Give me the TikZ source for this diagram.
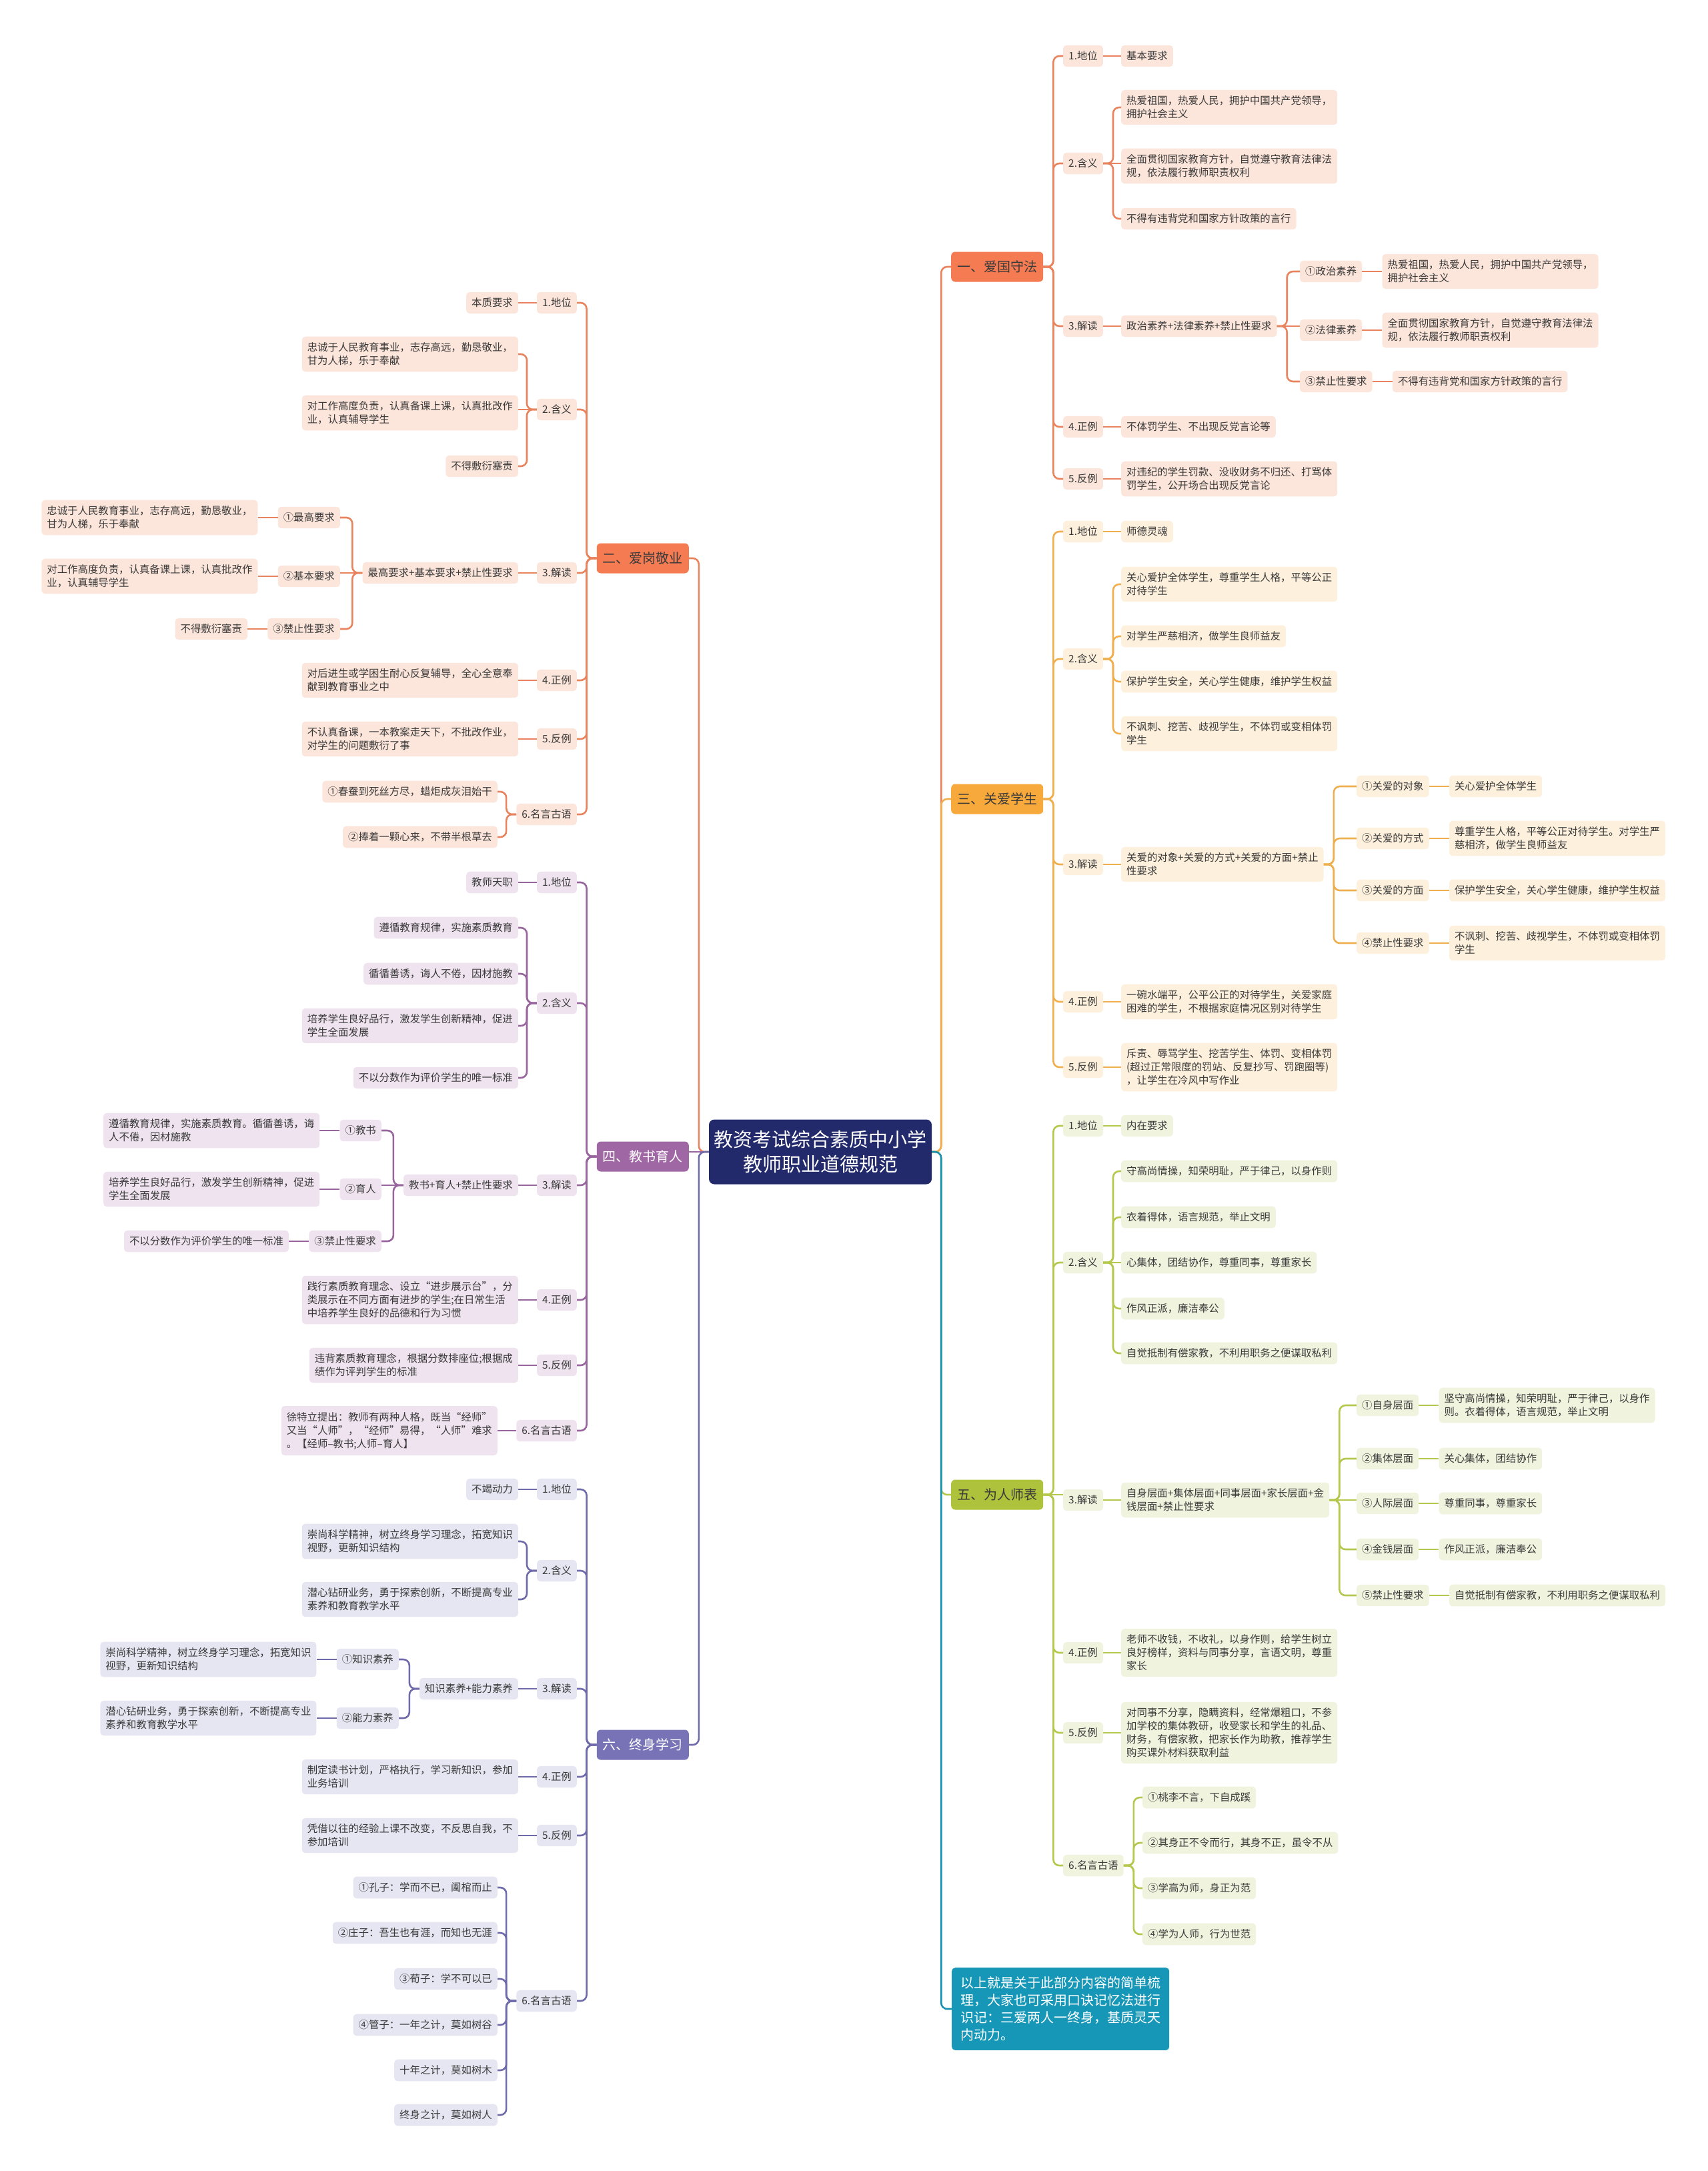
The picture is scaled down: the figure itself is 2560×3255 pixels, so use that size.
\documentclass[tikz,border=0pt]{standalone}
\usepackage{fontspec}
\setmainfont{Noto Sans CJK SC}
\usetikzlibrary{positioning}
\definecolor{rootc}{HTML}{222A6B}
\definecolor{oA}{HTML}{F47B52}
\definecolor{oL}{HTML}{E8835D}
\definecolor{oF}{HTML}{FCE5DA}
\definecolor{aA}{HTML}{F8A93B}
\definecolor{aL}{HTML}{F0AF4E}
\definecolor{aF}{HTML}{FDF0DC}
\definecolor{pA}{HTML}{A067A5}
\definecolor{pL}{HTML}{98659E}
\definecolor{pF}{HTML}{EEE3EF}
\definecolor{gA}{HTML}{AEC23B}
\definecolor{gL}{HTML}{B5C74D}
\definecolor{gF}{HTML}{F0F3DE}
\definecolor{sA}{HTML}{7773B6}
\definecolor{sL}{HTML}{6F6BAB}
\definecolor{sF}{HTML}{E6E6F3}
\definecolor{tA}{HTML}{1797B8}
\definecolor{tL}{HTML}{1B8FAF}
\definecolor{txt}{HTML}{3A3A3A}
\newdimen\lkdy
\newcommand\linkR[3]{%
  \pgfextracty{\lkdy}{\pgfpointdiff{\pgfpointanchor{#2}{east}}{\pgfpointanchor{#3}{west}}}%
  \ifdim\lkdy<0pt \lkdy=-\lkdy\fi
  \ifdim\lkdy<13pt
    \draw[#1] (#2.east) -- (#3.west |- #2.east);
  \else
    \draw[#1] (#2.east) -- ++(15,0) |- (#3.west);
  \fi}
\newcommand\linkL[3]{%
  \pgfextracty{\lkdy}{\pgfpointdiff{\pgfpointanchor{#2}{west}}{\pgfpointanchor{#3}{east}}}%
  \ifdim\lkdy<0pt \lkdy=-\lkdy\fi
  \ifdim\lkdy<13pt
    \draw[#1] (#2.west) -- (#3.east |- #2.west);
  \else
    \draw[#1] (#2.west) -- ++(-15,0) |- (#3.east);
  \fi}
\tikzset{
  box/.style={rounded corners=5pt, inner xsep=8pt, inner ysep=9pt, minimum height=32pt,
    align=left, font=\fontsize{15.4}{20}\selectfont, text=txt},
  ob/.style={box, fill=oF}, ab/.style={box, fill=aF}, pb/.style={box, fill=pF},
  gb/.style={box, fill=gF}, sb/.style={box, fill=sF},
  br/.style={rounded corners=6pt, inner xsep=9pt, minimum height=45pt, font=\fontsize{20}{24}\selectfont},
  R/.style={anchor=west}, L/.style={anchor=east},
  ln/.style={line width=2.6pt, rounded corners=9pt},
  oln/.style={ln, draw=oL}, aln/.style={ln, draw=aL}, pln/.style={ln, draw=pL},
  gln/.style={ln, draw=gL}, sln/.style={ln, draw=sL}, tln/.style={ln, draw=tL}
}
\begin{document}
\begin{tikzpicture}[x=1pt, y=-1pt]
\useasboundingbox (0,0) rectangle (2560,3255);
\fill[white] (0,0) rectangle (2560,3255);

% root
\node[fill=rootc, text=white, rounded corners=8pt, align=center, minimum width=334pt, minimum height=97pt,
  font=\fontsize{29}{37}\selectfont] (root) at (1230,1727) {教资考试综合素质中小学\\教师职业道德规范};

% ================= Branch 1 =================
\node[br, fill=oA, text=txt, R] (b1) at (1426,400) {一、爱国守法};
\node[ob,R] (b1s1) at (1594,84) {1.地位};
\node[ob,R] (b1s1a) at (1681,84) {基本要求};
\node[ob,R] (b1s2) at (1594,245) {2.含义};
\node[ob,R] (b1s2a) at (1681,161) {热爱祖国，热爱人民，拥护中国共产党领导，\\拥护社会主义};
\node[ob,R] (b1s2b) at (1681,249) {全面贯彻国家教育方针，自觉遵守教育法律法\\规，依法履行教师职责权利};
\node[ob,R] (b1s2c) at (1681,328) {不得有违背党和国家方针政策的言行};
\node[ob,R] (b1s3) at (1594,489) {3.解读};
\node[ob,R] (b1s3a) at (1681,489) {政治素养+法律素养+禁止性要求};
\node[ob,R] (b1k1) at (1949,407) {①政治素养};
\node[ob,right=30pt of b1k1] (b1k1a) {热爱祖国，热爱人民，拥护中国共产党领导，\\拥护社会主义};
\node[ob,R] (b1k2) at (1949,495) {②法律素养};
\node[ob,right=30pt of b1k2] (b1k2a) {全面贯彻国家教育方针，自觉遵守教育法律法\\规，依法履行教师职责权利};
\node[ob,R] (b1k3) at (1949,572) {③禁止性要求};
\node[ob,right=30pt of b1k3] (b1k3a) {不得有违背党和国家方针政策的言行};
\node[ob,R] (b1s4) at (1594,640) {4.正例};
\node[ob,R] (b1s4a) at (1681,640) {不体罚学生、不出现反党言论等};
\node[ob,R] (b1s5) at (1594,718) {5.反例};
\node[ob,R] (b1s5a) at (1681,718) {对违纪的学生罚款、没收财务不归还、打骂体\\罚学生，公开场合出现反党言论};

% ================= Branch 3 =================
\node[br, fill=aA, text=txt, R] (b3) at (1426,1198) {三、关爱学生};
\node[ab,R] (b3s1) at (1594,797) {1.地位};
\node[ab,R] (b3s1a) at (1681,797) {师德灵魂};
\node[ab,R] (b3s2) at (1594,988) {2.含义};
\node[ab,R] (b3s2a) at (1681,876) {关心爱护全体学生，尊重学生人格，平等公正\\对待学生};
\node[ab,R] (b3s2b) at (1681,954) {对学生严慈相济，做学生良师益友};
\node[ab,R] (b3s2c) at (1681,1022) {保护学生安全，关心学生健康，维护学生权益};
\node[ab,R] (b3s2d) at (1681,1100) {不讽刺、挖苦、歧视学生，不体罚或变相体罚\\学生};
\node[ab,R] (b3s3) at (1594,1296) {3.解读};
\node[ab,R] (b3s3a) at (1681,1296) {关爱的对象+关爱的方式+关爱的方面+禁止\\性要求};
\node[ab,R] (b3k1) at (2034,1179) {①关爱的对象};
\node[ab,right=30pt of b3k1] (b3k1a) {关心爱护全体学生};
\node[ab,R] (b3k2) at (2034,1257) {②关爱的方式};
\node[ab,right=30pt of b3k2] (b3k2a) {尊重学生人格，平等公正对待学生。对学生严\\慈相济，做学生良师益友};
\node[ab,R] (b3k3) at (2034,1335) {③关爱的方面};
\node[ab,right=30pt of b3k3] (b3k3a) {保护学生安全，关心学生健康，维护学生权益};
\node[ab,R] (b3k4) at (2034,1414) {④禁止性要求};
\node[ab,right=30pt of b3k4] (b3k4a) {不讽刺、挖苦、歧视学生，不体罚或变相体罚\\学生};
\node[ab,R] (b3s4) at (1594,1502) {4.正例};
\node[ab,R] (b3s4a) at (1681,1502) {一碗水端平，公平公正的对待学生，关爱家庭\\困难的学生，不根据家庭情况区别对待学生};
\node[ab,R] (b3s5) at (1594,1600) {5.反例};
\node[ab,R] (b3s5a) at (1681,1600) {斥责、辱骂学生、挖苦学生、体罚、变相体罚\\(超过正常限度的罚站、反复抄写、罚跑圈等)\\，让学生在冷风中写作业};

% ================= Branch 5 =================
\node[br, fill=gA, text=txt, R] (b5) at (1426,2241) {五、为人师表};
\node[gb,R] (b5s1) at (1594,1688) {1.地位};
\node[gb,R] (b5s1a) at (1681,1688) {内在要求};
\node[gb,R] (b5s2) at (1594,1893) {2.含义};
\node[gb,R] (b5s2a) at (1681,1756) {守高尚情操，知荣明耻，严于律己，以身作则};
\node[gb,R] (b5s2b) at (1681,1825) {衣着得体，语言规范，举止文明};
\node[gb,R] (b5s2c) at (1681,1893) {心集体，团结协作，尊重同事，尊重家长};
\node[gb,R] (b5s2d) at (1681,1962) {作风正派，廉洁奉公};
\node[gb,R] (b5s2e) at (1681,2029) {自觉抵制有偿家教，不利用职务之便谋取私利};
\node[gb,R] (b5s3) at (1594,2249) {3.解读};
\node[gb,R] (b5s3a) at (1681,2249) {自身层面+集体层面+同事层面+家长层面+金\\钱层面+禁止性要求};
\node[gb,R] (b5k1) at (2034,2107) {①自身层面};
\node[gb,right=30pt of b5k1] (b5k1a) {坚守高尚情操，知荣明耻，严于律己，以身作\\则。衣着得体，语言规范，举止文明};
\node[gb,R] (b5k2) at (2034,2187) {②集体层面};
\node[gb,right=30pt of b5k2] (b5k2a) {关心集体，团结协作};
\node[gb,R] (b5k3) at (2034,2254) {③人际层面};
\node[gb,right=30pt of b5k3] (b5k3a) {尊重同事，尊重家长};
\node[gb,R] (b5k4) at (2034,2323) {④金钱层面};
\node[gb,right=30pt of b5k4] (b5k4a) {作风正派，廉洁奉公};
\node[gb,R] (b5k5) at (2034,2392) {⑤禁止性要求};
\node[gb,right=30pt of b5k5] (b5k5a) {自觉抵制有偿家教，不利用职务之便谋取私利};
\node[gb,R] (b5s4) at (1594,2478) {4.正例};
\node[gb,R] (b5s4a) at (1681,2478) {老师不收钱，不收礼，以身作则，给学生树立\\良好榜样，资料与同事分享，言语文明，尊重\\家长};
\node[gb,R] (b5s5) at (1594,2598) {5.反例};
\node[gb,R] (b5s5a) at (1681,2598) {对同事不分享，隐瞒资料，经常爆粗口，不参\\加学校的集体教研，收受家长和学生的礼品、\\财务，有偿家教，把家长作为助教，推荐学生\\购买课外材料获取利益};
\node[gb,R] (b5s6) at (1594,2797) {6.名言古语};
\node[gb,R] (b5s6a) at (1713,2695) {①桃李不言，下自成蹊};
\node[gb,R] (b5s6b) at (1713,2763) {②其身正不令而行，其身不正，虽令不从};
\node[gb,R] (b5s6c) at (1713,2831) {③学高为师，身正为范};
\node[gb,R] (b5s6d) at (1713,2900) {④学为人师，行为世范};

% summary
\node[fill=tA, text=white, rounded corners=5pt, align=left, inner xsep=13pt, inner ysep=13.5pt,
  font=\fontsize{20}{26}\selectfont, R] (sum) at (1427,3012) {以上就是关于此部分内容的简单梳\\理，大家也可采用口诀记忆法进行\\识记：三爱两人一终身，基质灵天\\内动力。};

% ================= Branch 2 =================
\node[br, fill=oA, text=txt, L] (b2) at (1033,837) {二、爱岗敬业};
\node[ob,L] (b2s1) at (865,454) {1.地位};
\node[ob,L] (b2s1a) at (777,454) {本质要求};
\node[ob,L] (b2s2) at (865,614) {2.含义};
\node[ob,L] (b2s2a) at (777,531) {忠诚于人民教育事业，志存高远，勤恳敬业，\\甘为人梯，乐于奉献};
\node[ob,L] (b2s2b) at (777,619) {对工作高度负责，认真备课上课，认真批改作\\业，认真辅导学生};
\node[ob,L] (b2s2c) at (777,699) {不得敷衍塞责};
\node[ob,L] (b2s3) at (865,859) {3.解读};
\node[ob,L] (b2s3a) at (777,859) {最高要求+基本要求+禁止性要求};
\node[ob,L] (b2k1) at (510,776) {①最高要求};
\node[ob,left=30pt of b2k1] (b2k1a) {忠诚于人民教育事业，志存高远，勤恳敬业，\\甘为人梯，乐于奉献};
\node[ob,L] (b2k2) at (510,864) {②基本要求};
\node[ob,left=30pt of b2k2] (b2k2a) {对工作高度负责，认真备课上课，认真批改作\\业，认真辅导学生};
\node[ob,L] (b2k3) at (510,943) {③禁止性要求};
\node[ob,left=30pt of b2k3] (b2k3a) {不得敷衍塞责};
\node[ob,L] (b2s4) at (865,1020) {4.正例};
\node[ob,L] (b2s4a) at (777,1020) {对后进生或学困生耐心反复辅导，全心全意奉\\献到教育事业之中};
\node[ob,L] (b2s5) at (865,1108) {5.反例};
\node[ob,L] (b2s5a) at (777,1108) {不认真备课，一本教案走天下，不批改作业，\\对学生的问题敷衍了事};
\node[ob,L] (b2s6) at (865,1221) {6.名言古语};
\node[ob,L] (b2s6a) at (746,1187) {①春蚕到死丝方尽，蜡炬成灰泪始干};
\node[ob,L] (b2s6b) at (746,1255) {②捧着一颗心来，不带半根草去};

% ================= Branch 4 =================
\node[br, fill=pA, text=white, L] (b4) at (1033,1734) {四、教书育人};
\node[pb,L] (b4s1) at (865,1323) {1.地位};
\node[pb,L] (b4s1a) at (777,1323) {教师天职};
\node[pb,L] (b4s2) at (865,1504) {2.含义};
\node[pb,L] (b4s2a) at (777,1391) {遵循教育规律，实施素质教育};
\node[pb,L] (b4s2b) at (777,1460) {循循善诱，诲人不倦，因材施教};
\node[pb,L] (b4s2c) at (777,1538) {培养学生良好品行，激发学生创新精神，促进\\学生全面发展};
\node[pb,L] (b4s2d) at (777,1616) {不以分数作为评价学生的唯一标准};
\node[pb,L] (b4s3) at (865,1777) {3.解读};
\node[pb,L] (b4s3a) at (777,1777) {教书+育人+禁止性要求};
\node[pb,L] (b4k1) at (572,1695) {①教书};
\node[pb,left=30pt of b4k1] (b4k1a) {遵循教育规律，实施素质教育。循循善诱，诲\\人不倦，因材施教};
\node[pb,L] (b4k2) at (572,1783) {②育人};
\node[pb,left=30pt of b4k2] (b4k2a) {培养学生良好品行，激发学生创新精神，促进\\学生全面发展};
\node[pb,L] (b4k3) at (572,1861) {③禁止性要求};
\node[pb,left=30pt of b4k3] (b4k3a) {不以分数作为评价学生的唯一标准};
\node[pb,L] (b4s4) at (865,1949) {4.正例};
\node[pb,L] (b4s4a) at (777,1949) {践行素质教育理念、设立“进步展示台”，分\\类展示在不同方面有进步的学生;在日常生活\\中培养学生良好的品德和行为习惯};
\node[pb,L] (b4s5) at (865,2047) {5.反例};
\node[pb,L] (b4s5a) at (777,2047) {违背素质教育理念，根据分数排座位;根据成\\绩作为评判学生的标准};
\node[pb,L] (b4s6) at (865,2145) {6.名言古语};
\node[pb,L] (b4s6a) at (746,2145) {徐特立提出：教师有两种人格，既当“经师”\\又当“人师”，“经师”易得，“人师”难求\\。【经师--教书;人师--育人】};

% ================= Branch 6 =================
\node[br, fill=sA, text=white, L] (b6) at (1033,2616) {六、终身学习};
\node[sb,L] (b6s1) at (865,2233) {1.地位};
\node[sb,L] (b6s1a) at (777,2233) {不竭动力};
\node[sb,L] (b6s2) at (865,2355) {2.含义};
\node[sb,L] (b6s2a) at (777,2311) {崇尚科学精神，树立终身学习理念，拓宽知识\\视野，更新知识结构};
\node[sb,L] (b6s2b) at (777,2398) {潜心钻研业务，勇于探索创新，不断提高专业\\素养和教育教学水平};
\node[sb,L] (b6s3) at (865,2532) {3.解读};
\node[sb,L] (b6s3a) at (777,2532) {知识素养+能力素养};
\node[sb,L] (b6k1) at (598,2488) {①知识素养};
\node[sb,left=30pt of b6k1] (b6k1a) {崇尚科学精神，树立终身学习理念，拓宽知识\\视野，更新知识结构};
\node[sb,L] (b6k2) at (598,2576) {②能力素养};
\node[sb,left=30pt of b6k2] (b6k2a) {潜心钻研业务，勇于探索创新，不断提高专业\\素养和教育教学水平};
\node[sb,L] (b6s4) at (865,2664) {4.正例};
\node[sb,L] (b6s4a) at (777,2664) {制定读书计划，严格执行，学习新知识，参加\\业务培训};
\node[sb,L] (b6s5) at (865,2752) {5.反例};
\node[sb,L] (b6s5a) at (777,2752) {凭借以往的经验上课不改变，不反思自我，不\\参加培训};
\node[sb,L] (b6s6) at (865,3000) {6.名言古语};
\node[sb,L] (b6s6a) at (746,2830) {①孔子：学而不已，阖棺而止};
\node[sb,L] (b6s6b) at (746,2898) {②庄子：吾生也有涯，而知也无涯};
\node[sb,L] (b6s6c) at (746,2967) {③荀子：学不可以已};
\node[sb,L] (b6s6d) at (746,3036) {④管子：一年之计，莫如树谷};
\node[sb,L] (b6s6e) at (746,3104) {十年之计，莫如树木};
\node[sb,L] (b6s6f) at (746,3171) {终身之计，莫如树人};

% ================= root connectors =================
\draw[oln] (root.east) -- ++(14,0) |- (b1.west);
\draw[aln] (root.east) -- ++(14,0) |- (b3.west);
\draw[gln] (root.east) -- ++(14,0) |- (b5.west);
\draw[tln] (root.east) -- ++(14,0) |- (sum.west);
\draw[oln] (root.west) -- ++(-15,0) |- (b2.east);
\draw[pln] (root.west) -- (b4.east |- root.west);
\draw[sln] (root.west) -- ++(-15,0) |- (b6.east);

% ================= branch 1 connectors =================
\foreach \s in {b1s1,b1s2,b1s3,b1s4,b1s5} {\linkR{oln}{b1}{\s}}
\linkR{oln}{b1s1}{b1s1a}
\foreach \s in {b1s2a,b1s2b,b1s2c} {\linkR{oln}{b1s2}{\s}}
\linkR{oln}{b1s3}{b1s3a}
\foreach \s in {b1k1,b1k2,b1k3} {\linkR{oln}{b1s3a}{\s}}
\linkR{oln}{b1k1}{b1k1a}
\linkR{oln}{b1k2}{b1k2a}
\linkR{oln}{b1k3}{b1k3a}
\linkR{oln}{b1s4}{b1s4a}
\linkR{oln}{b1s5}{b1s5a}

% ================= branch 3 connectors =================
\foreach \s in {b3s1,b3s2,b3s3,b3s4,b3s5} {\linkR{aln}{b3}{\s}}
\linkR{aln}{b3s1}{b3s1a}
\foreach \s in {b3s2a,b3s2b,b3s2c,b3s2d} {\linkR{aln}{b3s2}{\s}}
\linkR{aln}{b3s3}{b3s3a}
\foreach \s in {b3k1,b3k2,b3k3,b3k4} {\linkR{aln}{b3s3a}{\s}}
\linkR{aln}{b3k1}{b3k1a}
\linkR{aln}{b3k2}{b3k2a}
\linkR{aln}{b3k3}{b3k3a}
\linkR{aln}{b3k4}{b3k4a}
\linkR{aln}{b3s4}{b3s4a}
\linkR{aln}{b3s5}{b3s5a}

% ================= branch 5 connectors =================
\foreach \s in {b5s1,b5s2,b5s3,b5s4,b5s5,b5s6} {\linkR{gln}{b5}{\s}}
\linkR{gln}{b5s1}{b5s1a}
\foreach \s in {b5s2a,b5s2b,b5s2c,b5s2d,b5s2e} {\linkR{gln}{b5s2}{\s}}
\linkR{gln}{b5s3}{b5s3a}
\foreach \s in {b5k1,b5k2,b5k3,b5k4,b5k5} {\linkR{gln}{b5s3a}{\s}}
\linkR{gln}{b5k1}{b5k1a}
\linkR{gln}{b5k2}{b5k2a}
\linkR{gln}{b5k3}{b5k3a}
\linkR{gln}{b5k4}{b5k4a}
\linkR{gln}{b5k5}{b5k5a}
\linkR{gln}{b5s4}{b5s4a}
\linkR{gln}{b5s5}{b5s5a}
\foreach \s in {b5s6a,b5s6b,b5s6c,b5s6d} {\linkR{gln}{b5s6}{\s}}

% ================= branch 2 connectors =================
\foreach \s in {b2s1,b2s2,b2s3,b2s4,b2s5,b2s6} {\linkL{oln}{b2}{\s}}
\linkL{oln}{b2s1}{b2s1a}
\foreach \s in {b2s2a,b2s2b,b2s2c} {\linkL{oln}{b2s2}{\s}}
\linkL{oln}{b2s3}{b2s3a}
\foreach \s in {b2k1,b2k2,b2k3} {\linkL{oln}{b2s3a}{\s}}
\linkL{oln}{b2k1}{b2k1a}
\linkL{oln}{b2k2}{b2k2a}
\linkL{oln}{b2k3}{b2k3a}
\linkL{oln}{b2s4}{b2s4a}
\linkL{oln}{b2s5}{b2s5a}
\foreach \s in {b2s6a,b2s6b} {\linkL{oln}{b2s6}{\s}}

% ================= branch 4 connectors =================
\foreach \s in {b4s1,b4s2,b4s3,b4s4,b4s5,b4s6} {\linkL{pln}{b4}{\s}}
\linkL{pln}{b4s1}{b4s1a}
\foreach \s in {b4s2a,b4s2b,b4s2c,b4s2d} {\linkL{pln}{b4s2}{\s}}
\linkL{pln}{b4s3}{b4s3a}
\foreach \s in {b4k1,b4k2,b4k3} {\linkL{pln}{b4s3a}{\s}}
\linkL{pln}{b4k1}{b4k1a}
\linkL{pln}{b4k2}{b4k2a}
\linkL{pln}{b4k3}{b4k3a}
\linkL{pln}{b4s4}{b4s4a}
\linkL{pln}{b4s5}{b4s5a}
\linkL{pln}{b4s6}{b4s6a}

% ================= branch 6 connectors =================
\foreach \s in {b6s1,b6s2,b6s3,b6s4,b6s5,b6s6} {\linkL{sln}{b6}{\s}}
\linkL{sln}{b6s1}{b6s1a}
\foreach \s in {b6s2a,b6s2b} {\linkL{sln}{b6s2}{\s}}
\linkL{sln}{b6s3}{b6s3a}
\foreach \s in {b6k1,b6k2} {\linkL{sln}{b6s3a}{\s}}
\linkL{sln}{b6k1}{b6k1a}
\linkL{sln}{b6k2}{b6k2a}
\linkL{sln}{b6s4}{b6s4a}
\linkL{sln}{b6s5}{b6s5a}
\foreach \s in {b6s6a,b6s6b,b6s6c,b6s6d,b6s6e,b6s6f} {\linkL{sln}{b6s6}{\s}}
\end{tikzpicture}
\end{document}
